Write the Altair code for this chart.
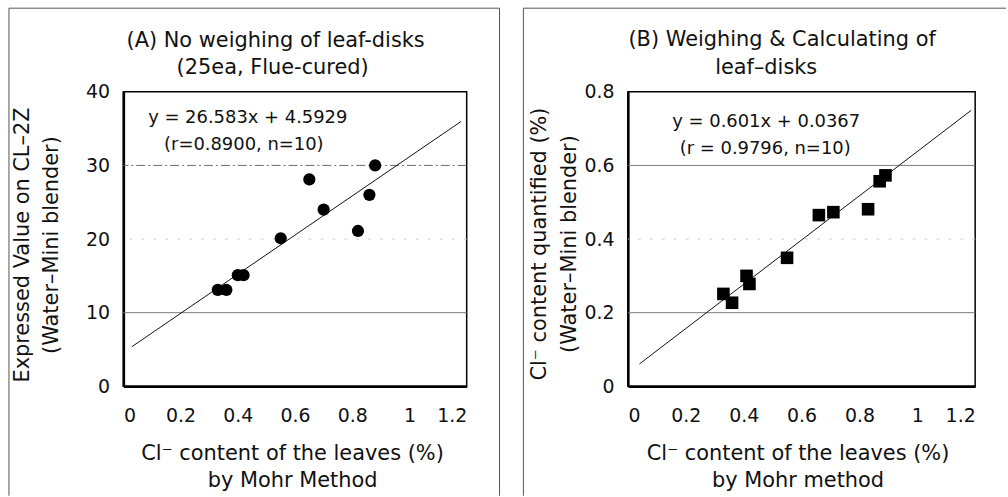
import altair as alt
import pandas as pd

FONT = "DejaVu Sans"
INK = "#111111"

# ---------------- data ----------------
x_ticks = [0, 0.2, 0.4, 0.6, 0.8, 1, 1.2]

# Panel A: no weighing of leaf-disks
a_x = [0.33, 0.36, 0.40, 0.42, 0.55, 0.65, 0.70, 0.82, 0.86, 0.88]
a_y = [13.1, 13.1, 15.1, 15.1, 20.1, 28.1, 24.0, 21.1, 26.0, 30.0]
a_slope, a_intercept = 26.583, 4.5929
a_fit_x = [0.03, 1.18]
a_y_ticks = [0, 10, 20, 30, 40]
a_grid_solid = [10]
a_grid_dashdot = [30]
a_grid_faint = [20]

# Panel B: weighing & calculating of leaf-disks
b_x = [0.33, 0.36, 0.41, 0.42, 0.55, 0.66, 0.71, 0.83, 0.87, 0.89]
b_y = [0.251, 0.227, 0.300, 0.278, 0.349, 0.465, 0.473, 0.481, 0.557, 0.573]
b_slope, b_intercept = 0.601, 0.0367
b_fit_x = [0.04, 1.186]
b_y_ticks = [0, 0.2, 0.4, 0.6, 0.8]
b_grid_solid = [0.2, 0.6]
b_grid_dashdot = []
b_grid_faint = [0.4]

PLOT_H = 296
ONE = alt.Data(values=[{}])


def txt(text, x, y, size=21, angle=0):
    return alt.Chart(ONE).mark_text(
        text=text, font=FONT, fontSize=size, color=INK, align="center",
        baseline="middle", angle=angle,
    ).encode(x=alt.value(x), y=alt.value(y))


def vrule(x, y1, y2):
    return alt.Chart(ONE).mark_rule(color="#555555", strokeWidth=1).encode(
        x=alt.value(x), y=alt.value(y1), y2=alt.value(y2))


def hrule(x1, x2, y):
    return alt.Chart(ONE).mark_rule(color="#555555", strokeWidth=1).encode(
        x=alt.value(x1), x2=alt.value(x2), y=alt.value(y))


def panel(px, py, fit_x, slope, intercept, yticks, ydomain, shape, size,
          g_solid, g_dashdot, g_faint, width, texts, frame):
    xs = alt.Scale(domain=[0, 1.2], nice=False, zero=False)
    ys = alt.Scale(domain=ydomain, nice=False, zero=False)
    xa = alt.Axis(values=x_ticks, format="~r", title="")
    ya = alt.Axis(values=yticks, format="~r", title="")
    X = lambda: alt.X("x:Q", scale=xs, axis=xa)
    Y = lambda: alt.Y("y:Q", scale=ys, axis=ya)
    layers = []
    if g_solid:
        layers.append(alt.Chart(pd.DataFrame({"y": g_solid})).mark_rule(
            color="#7a7a7a", strokeWidth=1).encode(y=Y()))
    if g_dashdot:
        layers.append(alt.Chart(pd.DataFrame({"y": g_dashdot})).mark_rule(
            color="#6a6a6a", strokeWidth=1, strokeDash=[9, 3, 2, 3]).encode(y=Y()))
    if g_faint:
        layers.append(alt.Chart(pd.DataFrame({"y": g_faint})).mark_rule(
            color="#cfcfcf", strokeWidth=1, strokeDash=[3, 9]).encode(y=Y()))
    fit = pd.DataFrame({"x": fit_x, "y": [slope * v + intercept for v in fit_x]})
    layers.append(alt.Chart(fit).mark_line(color=INK, strokeWidth=1).encode(x=X(), y=Y()))
    pts = pd.DataFrame({"x": px, "y": py})
    layers.append(alt.Chart(pts).mark_point(
        shape=shape, size=size, filled=True, color="#000000", opacity=1).encode(x=X(), y=Y()))
    layers.extend(texts)
    layers.extend(frame)
    return alt.layer(*layers).properties(width=width, height=PLOT_H)


a_texts = [
    txt("(A) No weighing of leaf-disks", 153, -51),
    txt("(25ea, Flue-cured)", 150, -24),
    txt("y = 26.583x + 4.5929", 125, 26, size=18),
    txt("(r=0.8900, n=10)", 121, 54, size=18),
    txt("Cl\u207b content of the leaves (%)", 170, 364),
    txt("by Mohr Method", 170, 391),
    txt("Expressed Value on CL\u20132Z", -101, 154, angle=270),
    txt("(Water\u2013Mini blender)", -72, 154, angle=270),
]
a_frame = [vrule(-115, -84, 406), vrule(378, -84, 406), hrule(-115, 378, -84)]

b_texts = [
    txt("(B) Weighing & Calculating of", 155, -52),
    txt("leaf\u2013disks", 139, -24),
    txt("y = 0.601x + 0.0367", 139, 30, size=18),
    txt("(r = 0.9796, n=10)", 138, 58, size=18),
    txt("Cl\u207b content of the leaves (%)", 171, 364),
    txt("by Mohr method", 171, 391),
    txt("Cl\u207b content quantified (%)", -88, 153, angle=270),
    txt("(Water\u2013Mini blender)", -58, 153, angle=270),
]
b_frame = [vrule(-105, -84, 406), hrule(-105, 380, -84)]

pa = panel(a_x, a_y, a_fit_x, a_slope, a_intercept, a_y_ticks, [0, 40], "circle", 150,
           a_grid_solid, a_grid_dashdot, a_grid_faint, 345, a_texts, a_frame)
pb = panel(b_x, b_y, b_fit_x, b_slope, b_intercept, b_y_ticks, [0, 0.8], "square", 160,
           b_grid_solid, b_grid_dashdot, b_grid_faint, 349, b_texts, b_frame)

chart = alt.hconcat(pa, pb, spacing=20).properties(
    padding={"left": 7, "top": 5, "right": 0, "bottom": 0},
    background="white",
).configure_view(
    stroke="#000000", strokeWidth=1.5
).configure_axis(
    domainColor="#000000", domainWidth=2.5, ticks=False, grid=False,
    labelFont=FONT, labelFontSize=19, labelColor=INK,
).configure_axisX(
    labelPadding=20
).configure_axisY(
    labelPadding=14
)

chart.save("out.html", embed_options={"renderer": "svg", "actions": False})
